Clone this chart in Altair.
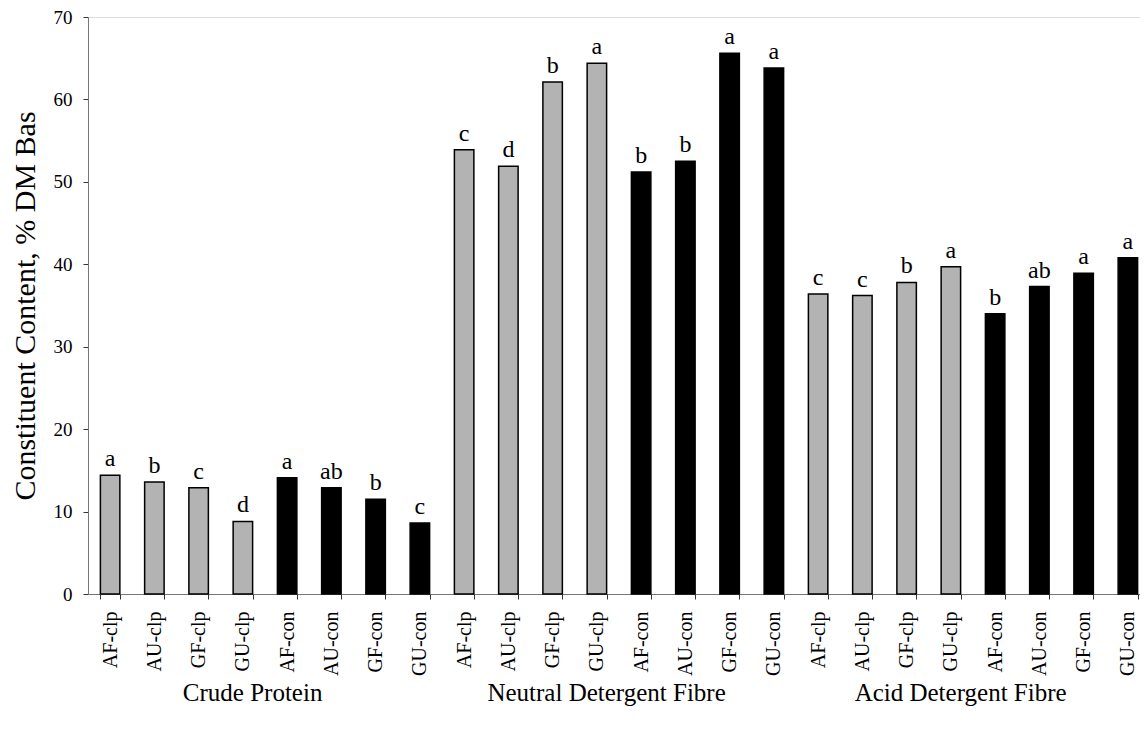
import altair as alt
import pandas as pd

groups = ["Crude Protein", "Neutral Detergent Fibre", "Acid Detergent Fibre"]
treatments = ["AF-clp", "AU-clp", "GF-clp", "GU-clp", "AF-con", "AU-con", "GF-con", "GU-con"]
cp_values = [14.4, 13.6, 12.9, 8.8, 14.1, 12.9, 11.5, 8.6]
ndf_values = [53.9, 51.9, 62.1, 64.4, 51.2, 52.5, 65.6, 63.8]
adf_values = [36.4, 36.2, 37.8, 39.7, 34.0, 37.3, 38.9, 40.8]
cp_letters = ["a", "b", "c", "d", "a", "ab", "b", "c"]
ndf_letters = ["c", "d", "b", "a", "b", "b", "a", "a"]
adf_letters = ["c", "c", "b", "a", "b", "ab", "a", "a"]
y_ticks = [0, 10, 20, 30, 40, 50, 60, 70]

rows = []
keys = []
for g, vals, lets in zip(groups, [cp_values, ndf_values, adf_values],
                         [cp_letters, ndf_letters, adf_letters]):
    for t, v, l in zip(treatments, vals, lets):
        k = g + "|" + t
        keys.append(k)
        rows.append({"key": k, "group": g, "treatment": t,
                     "method": t.split("-")[1], "value": v, "letter": l})
df = pd.DataFrame(rows)

# group label anchored at the boundary between the 4th and 5th bar of each group
glab = pd.DataFrame({"key": [g + "|" + treatments[3] for g in groups], "group": groups})

FONT = "Liberation Serif"
W, H = 1052, 577

xscale = alt.Scale(domain=keys, range=[0, 1062], paddingInner=0.56, paddingOuter=0.28)
yscale = alt.Scale(domain=[0, 70], nice=False)

x_enc = alt.X("key:N", scale=xscale, sort=keys,
              axis=alt.Axis(title=None, labelAngle=270,
                            labelExpr="split(datum.label, '|')[1]",
                            labelFont=FONT, labelFontSize=20, labelColor="black",
                            labelPadding=12, tickBand="extent", tickSize=5,
                            tickColor="#333", domainColor="#777", labelLimit=200))

bars = alt.Chart(df).mark_bar(stroke="black", strokeWidth=1.5).encode(
    x=x_enc,
    y=alt.Y("value:Q", scale=yscale,
            axis=alt.Axis(values=y_ticks, grid=False,
                          title="Constituent Content, % DM Bas",
                          titleFont=FONT, titleFontSize=30, titleFontWeight="normal",
                          titleColor="black", titlePadding=13,
                          labelFont=FONT, labelFontSize=19, labelColor="black",
                          labelPadding=11, tickSize=5, tickColor="#333",
                          domainColor="#777")),
    color=alt.Color("method:N",
                    scale=alt.Scale(domain=["clp", "con"], range=["#b3b3b3", "#000000"]),
                    legend=None),
)

letters = alt.Chart(df).mark_text(font=FONT, fontSize=24, baseline="alphabetic",
                                  dy=-9, color="black").encode(
    x=alt.X("key:N", scale=xscale, sort=keys),
    y=alt.Y("value:Q", scale=yscale),
    text="letter:N",
)

group_labels = alt.Chart(glab).mark_text(font=FONT, fontSize=25, baseline="alphabetic",
                                         color="black").encode(
    x=alt.X("key:N", scale=xscale, sort=keys, bandPosition=1),
    y=alt.value(684),
    text="group:N",
)

chart = alt.layer(bars, letters, group_labels).properties(
    width=W, height=H,
    autosize=alt.AutoSizeParams(type="none"),
    padding={"left": 80, "top": 9, "right": 0, "bottom": 130},
).configure_view(stroke=None).configure(background="white")

chart.save("out.html", embed_options={"renderer": "svg", "actions": False})
